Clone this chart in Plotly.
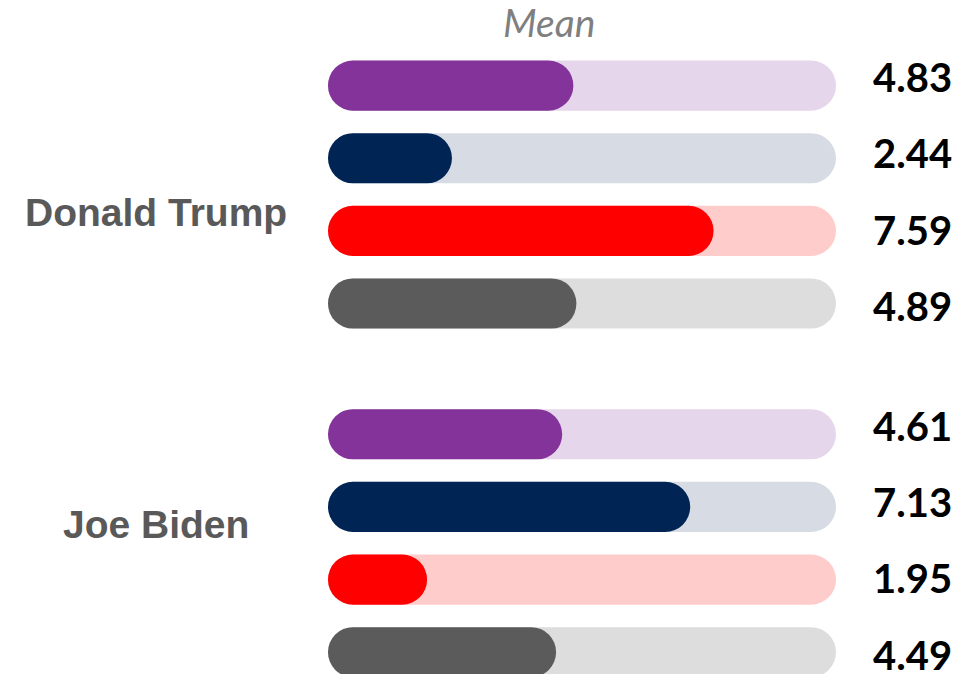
import plotly.graph_objects as go

# Mean scores (0-10 scale) for each candidate, four respondent groups each
candidates = ["Donald Trump", "Joe Biden"]
trump_means = [4.83, 2.44, 7.59, 4.89]
biden_means = [4.61, 7.13, 1.95, 4.49]
scale_max = 10
axis_title = "Mean"

fill_colors = ["#833399", "#002554", "#FF0000", "#5B5B5B"]
track_colors = ["#E6D6EB", "#D7DCE4", "#FFCCCC", "#DDDDDD"]

group_gap = 0.8        # extra row space between the two candidates
bar_thickness = 0.69
label_offsets = [0.25, -0.26]
value_spread = 1.05    # value labels are spaced slightly wider than the bars

fig = go.Figure()


def add_pill(y, value, color):
    """Draw a rounded bar from 0 to value."""
    fig.add_trace(go.Bar(
        x=[value], base=[0], y=[y], orientation="h", width=bar_thickness,
        marker=dict(color=color, cornerradius="50%", line=dict(width=0)),
        hoverinfo="skip", showlegend=False,
    ))


annotations = []
all_means = [trump_means, biden_means]
for g, (name, means) in enumerate(zip(candidates, all_means)):
    start = g * (len(means) + group_gap)
    center = start + (len(means) - 1) / 2
    for i, v in enumerate(means):
        y = start + i
        add_pill(y, scale_max, track_colors[i])
        add_pill(y, v, fill_colors[i])
        annotations.append(dict(
            x=1, xref="paper", xshift=76, xanchor="center",
            y=center + (y - center) * value_spread, yref="y",
            yanchor="middle", yshift=3,
            text=f"{v:.2f}", showarrow=False,
            font=dict(family="Lato", size=40, color="#000000", weight="bold"),
        ))
    annotations.append(dict(
        x=0, xref="paper", xshift=-172, xanchor="center",
        y=center + label_offsets[g], yref="y", yanchor="middle",
        text=name, showarrow=False,
        font=dict(family="Liberation Sans", size=39, color="#595959", weight="bold"),
    ))

annotations.append(dict(
    x=4.35, xref="x", xanchor="center",
    y=1, yref="paper", yshift=20, yanchor="middle",
    text=f"<i>{axis_title}</i>", showarrow=False,
    font=dict(family="Lato", size=39, color="#7F7F7F"),
))

fig.update_layout(
    width=971, height=675,
    margin=dict(l=328, r=135, t=42, b=1),
    barmode="overlay",
    paper_bgcolor="white", plot_bgcolor="white",
    xaxis=dict(range=[0, scale_max], visible=False, fixedrange=True),
    yaxis=dict(range=[8.1, -0.6], visible=False, fixedrange=True),
    annotations=annotations,
    showlegend=False,
)

fig.write_html("out.html", config={"displayModeBar": False})
